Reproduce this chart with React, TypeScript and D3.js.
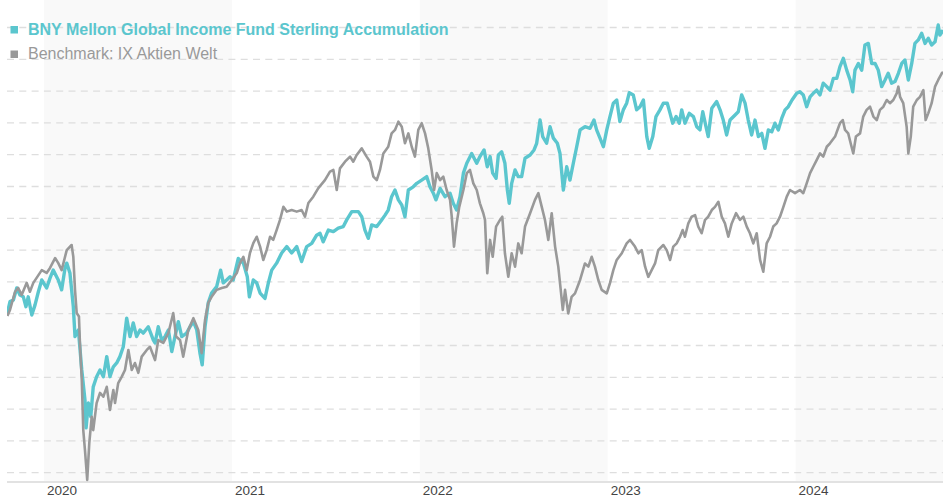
import React from "react";
import * as d3 from "d3";

// ---- Data ----
const YEARS: number[] = [2020, 2021, 2022, 2023, 2024];
const SHADED_YEARS: number[] = [2020, 2022, 2024];
const FUND_NAME = "BNY Mellon Global Income Fund Sterling Accumulation";
const BENCH_NAME = "Benchmark: IX Aktien Welt";

// [decimal year, indexed value]
const FUND: [number, number][] = [
  [2019.805, 100.2], [2019.819, 103.8], [2019.837, 104.3], [2019.855, 108.1], [2019.872, 105.9],
  [2019.89, 105.3], [2019.904, 102.2], [2019.916, 105.3], [2019.935, 99.6], [2019.952, 102.7],
  [2019.97, 106.9], [2019.988, 110.6], [2020.014, 108.1], [2020.032, 111.2], [2020.049, 113.7],
  [2020.076, 110.6], [2020.094, 107.5], [2020.112, 114.4], [2020.121, 115.9], [2020.138, 112.8],
  [2020.156, 102.2], [2020.165, 92.8], [2020.183, 94.9], [2020.201, 82.3], [2020.218, 72.9],
  [2020.224, 64.1], [2020.236, 71.9], [2020.249, 67.6], [2020.262, 77.0], [2020.28, 80.2],
  [2020.298, 82.3], [2020.316, 80.2], [2020.334, 86.5], [2020.351, 80.2], [2020.369, 83.3],
  [2020.387, 84.5], [2020.404, 86.5], [2020.422, 89.6], [2020.44, 98.6], [2020.458, 92.8],
  [2020.475, 97.1], [2020.493, 92.8], [2020.511, 94.9], [2020.528, 93.9], [2020.555, 95.9],
  [2020.582, 91.7], [2020.591, 90.8], [2020.608, 95.9], [2020.626, 91.7], [2020.644, 92.8],
  [2020.662, 94.9], [2020.68, 88.1], [2020.697, 92.8], [2020.715, 97.5], [2020.733, 92.8],
  [2020.759, 93.9], [2020.777, 95.9], [2020.795, 97.5], [2020.813, 94.9], [2020.83, 87.6],
  [2020.842, 83.9], [2020.857, 95.9], [2020.874, 103.4], [2020.892, 106.5], [2020.919, 108.5],
  [2020.94, 113.7], [2020.954, 109.7], [2020.972, 110.6], [2020.99, 111.6], [2021.007, 110.6],
  [2021.034, 117.4], [2021.061, 115.9], [2021.082, 111.6], [2021.093, 105.3], [2021.114, 110.6],
  [2021.132, 109.7], [2021.15, 106.5], [2021.176, 104.8], [2021.194, 109.7], [2021.212, 113.7],
  [2021.238, 115.9], [2021.265, 119.1], [2021.292, 121.1], [2021.318, 119.1], [2021.345, 121.1],
  [2021.371, 116.4], [2021.398, 121.1], [2021.425, 122.1], [2021.451, 124.7], [2021.469, 125.3],
  [2021.486, 122.6], [2021.513, 126.3], [2021.54, 125.8], [2021.566, 126.9], [2021.593, 127.4],
  [2021.611, 129.5], [2021.638, 132.1], [2021.673, 132.1], [2021.691, 130.5], [2021.708, 126.3],
  [2021.726, 123.7], [2021.744, 127.9], [2021.771, 127.4], [2021.797, 129.5], [2021.815, 131.0],
  [2021.832, 132.6], [2021.85, 136.8], [2021.868, 138.9], [2021.886, 135.8], [2021.904, 134.2],
  [2021.921, 130.5], [2021.939, 138.9], [2021.965, 139.9], [2021.984, 141.0], [2022.01, 142.0],
  [2022.037, 143.1], [2022.054, 139.9], [2022.072, 137.9], [2022.086, 135.8], [2022.108, 139.4],
  [2022.134, 136.8], [2022.161, 137.9], [2022.178, 134.7], [2022.196, 132.6], [2022.214, 136.8],
  [2022.232, 144.2], [2022.25, 147.3], [2022.276, 150.4], [2022.303, 147.3], [2022.32, 149.4],
  [2022.342, 151.5], [2022.359, 146.2], [2022.374, 149.4], [2022.388, 144.2], [2022.406, 142.6],
  [2022.418, 149.9], [2022.436, 150.9], [2022.453, 147.3], [2022.466, 138.9], [2022.476, 134.7],
  [2022.489, 141.0], [2022.507, 145.2], [2022.524, 143.1], [2022.542, 143.1], [2022.56, 148.9],
  [2022.587, 149.9], [2022.608, 151.5], [2022.622, 153.6], [2022.64, 160.9], [2022.654, 155.7],
  [2022.675, 153.6], [2022.693, 158.8], [2022.711, 155.2], [2022.732, 153.6], [2022.746, 150.4],
  [2022.764, 138.9], [2022.782, 146.2], [2022.799, 142.0], [2022.817, 147.3], [2022.835, 152.5],
  [2022.853, 157.8], [2022.879, 158.8], [2022.906, 158.3], [2022.927, 160.9], [2022.941, 157.8],
  [2022.959, 155.2], [2022.977, 152.5], [2022.995, 157.8], [2023.012, 162.0], [2023.03, 166.2],
  [2023.048, 167.2], [2023.065, 160.4], [2023.083, 164.1], [2023.101, 166.2], [2023.115, 169.5],
  [2023.136, 168.8], [2023.154, 164.1], [2023.172, 165.1], [2023.19, 167.2], [2023.208, 155.7],
  [2023.221, 152.0], [2023.24, 155.7], [2023.257, 162.0], [2023.278, 164.1], [2023.296, 166.2],
  [2023.317, 166.2], [2023.332, 163.0], [2023.346, 159.9], [2023.364, 162.0], [2023.381, 159.9],
  [2023.394, 164.1], [2023.411, 159.9], [2023.434, 163.0], [2023.456, 162.0], [2023.474, 158.8],
  [2023.491, 157.8], [2023.506, 163.5], [2023.523, 158.8], [2023.535, 155.7], [2023.554, 164.6],
  [2023.58, 166.7], [2023.598, 164.1], [2023.615, 160.9], [2023.633, 156.2], [2023.651, 160.9],
  [2023.678, 162.5], [2023.695, 163.5], [2023.713, 168.8], [2023.731, 166.2], [2023.748, 160.9],
  [2023.766, 156.2], [2023.784, 160.9], [2023.802, 155.7], [2023.82, 156.7], [2023.837, 152.0],
  [2023.855, 157.8], [2023.873, 157.2], [2023.89, 159.9], [2023.908, 157.8], [2023.926, 161.4],
  [2023.944, 164.1], [2023.961, 165.1], [2023.981, 167.2], [2024.006, 169.3], [2024.023, 169.8],
  [2024.041, 168.8], [2024.059, 165.1], [2024.077, 168.2], [2024.094, 169.3], [2024.112, 170.3],
  [2024.13, 168.8], [2024.147, 172.5], [2024.166, 171.4], [2024.183, 170.3], [2024.201, 174.0],
  [2024.219, 174.0], [2024.236, 177.7], [2024.254, 180.3], [2024.272, 176.6], [2024.29, 173.5],
  [2024.304, 169.8], [2024.316, 176.6], [2024.334, 178.7], [2024.352, 176.6], [2024.369, 184.5],
  [2024.387, 185.0], [2024.405, 178.7], [2024.423, 178.7], [2024.44, 176.6], [2024.458, 171.4],
  [2024.476, 173.5], [2024.493, 175.6], [2024.511, 172.5], [2024.529, 173.0], [2024.547, 175.6],
  [2024.565, 178.7], [2024.582, 179.8], [2024.6, 173.5], [2024.618, 178.7], [2024.635, 185.0],
  [2024.653, 186.1], [2024.671, 188.2], [2024.689, 185.0], [2024.706, 186.6], [2024.724, 184.5],
  [2024.742, 185.5], [2024.759, 190.8], [2024.768, 187.6], [2024.785, 189.2],
];

const BENCHMARK: [number, number][] = [
  [2019.805, 99.3], [2019.819, 101.2], [2019.846, 106.9], [2019.863, 108.1], [2019.881, 105.9],
  [2019.908, 109.7], [2019.925, 106.9], [2019.943, 109.7], [2019.988, 113.7], [2020.014, 112.8],
  [2020.032, 114.4], [2020.059, 117.5], [2020.076, 115.9], [2020.094, 113.7], [2020.112, 117.9],
  [2020.121, 120.0], [2020.147, 121.6], [2020.156, 117.9], [2020.165, 107.5], [2020.174, 100.2],
  [2020.186, 99.1], [2020.192, 89.6], [2020.201, 79.2], [2020.209, 63.4], [2020.218, 57.1],
  [2020.23, 47.7], [2020.241, 59.3], [2020.254, 67.6], [2020.262, 63.4], [2020.28, 71.9],
  [2020.298, 75.1], [2020.316, 73.9], [2020.334, 77.0], [2020.351, 69.7], [2020.369, 76.0],
  [2020.378, 71.9], [2020.395, 78.2], [2020.414, 80.2], [2020.431, 82.3], [2020.449, 88.6],
  [2020.467, 82.3], [2020.484, 84.5], [2020.502, 81.4], [2020.52, 86.5], [2020.547, 88.6],
  [2020.564, 89.6], [2020.591, 85.4], [2020.608, 91.7], [2020.635, 90.8], [2020.662, 93.9],
  [2020.688, 100.2], [2020.703, 92.8], [2020.724, 91.7], [2020.741, 86.5], [2020.768, 94.9],
  [2020.795, 98.6], [2020.821, 94.9], [2020.839, 87.6], [2020.857, 98.0], [2020.874, 103.4],
  [2020.892, 105.3], [2020.919, 107.5], [2020.946, 108.1], [2020.972, 108.5], [2020.999, 110.6],
  [2021.026, 112.8], [2021.043, 115.9], [2021.061, 117.9], [2021.079, 113.7], [2021.096, 119.1],
  [2021.114, 122.2], [2021.132, 124.2], [2021.15, 121.1], [2021.167, 116.9], [2021.185, 120.0],
  [2021.203, 124.2], [2021.22, 123.2], [2021.238, 126.3], [2021.256, 129.5], [2021.274, 133.6],
  [2021.292, 132.1], [2021.318, 132.6], [2021.345, 132.1], [2021.371, 132.6], [2021.389, 130.5],
  [2021.407, 134.8], [2021.433, 136.8], [2021.46, 139.5], [2021.495, 142.0], [2021.522, 144.7],
  [2021.54, 145.2], [2021.558, 138.9], [2021.575, 145.7], [2021.602, 147.8], [2021.629, 149.4],
  [2021.646, 147.8], [2021.664, 149.9], [2021.691, 152.0], [2021.717, 149.4], [2021.735, 147.8],
  [2021.753, 143.1], [2021.771, 142.0], [2021.788, 145.2], [2021.806, 150.4], [2021.832, 152.5],
  [2021.85, 156.7], [2021.868, 157.8], [2021.886, 160.4], [2021.904, 158.8], [2021.921, 153.6],
  [2021.939, 156.7], [2021.957, 152.5], [2021.974, 149.4], [2021.992, 157.8], [2022.01, 159.9],
  [2022.028, 156.7], [2022.045, 152.0], [2022.063, 145.2], [2022.076, 138.9], [2022.09, 144.2],
  [2022.108, 142.0], [2022.125, 143.1], [2022.143, 138.9], [2022.161, 135.8], [2022.17, 130.5],
  [2022.182, 121.1], [2022.196, 128.4], [2022.21, 133.6], [2022.232, 138.9], [2022.25, 144.2],
  [2022.267, 145.2], [2022.285, 141.0], [2022.303, 138.9], [2022.32, 134.7], [2022.338, 131.6],
  [2022.347, 129.5], [2022.359, 112.7], [2022.374, 123.2], [2022.388, 117.9], [2022.406, 127.4],
  [2022.427, 129.5], [2022.439, 130.5], [2022.453, 119.0], [2022.471, 111.6], [2022.489, 119.0],
  [2022.507, 114.8], [2022.524, 122.1], [2022.542, 119.0], [2022.56, 127.4], [2022.587, 131.6],
  [2022.613, 135.8], [2022.631, 137.9], [2022.649, 133.6], [2022.666, 129.5], [2022.684, 123.2],
  [2022.702, 131.6], [2022.72, 121.1], [2022.737, 114.8], [2022.75, 107.5], [2022.761, 101.2],
  [2022.773, 107.5], [2022.79, 100.1], [2022.808, 105.3], [2022.826, 106.4], [2022.853, 110.6],
  [2022.879, 115.8], [2022.897, 114.8], [2022.915, 117.9], [2022.932, 114.8], [2022.95, 110.6],
  [2022.968, 107.5], [2022.995, 106.4], [2023.012, 109.6], [2023.03, 113.7], [2023.048, 116.9],
  [2023.075, 119.0], [2023.101, 122.1], [2023.119, 123.2], [2023.145, 121.1], [2023.163, 119.0],
  [2023.181, 120.0], [2023.199, 114.8], [2023.216, 111.6], [2023.234, 113.7], [2023.252, 115.8],
  [2023.269, 120.0], [2023.296, 121.6], [2023.314, 120.0], [2023.332, 116.9], [2023.349, 121.1],
  [2023.367, 122.1], [2023.385, 124.2], [2023.399, 126.3], [2023.411, 124.2], [2023.429, 128.4],
  [2023.447, 130.5], [2023.465, 131.0], [2023.482, 127.4], [2023.5, 125.3], [2023.518, 129.5],
  [2023.535, 130.5], [2023.554, 132.6], [2023.571, 133.6], [2023.589, 135.2], [2023.607, 130.5],
  [2023.624, 128.4], [2023.642, 124.2], [2023.66, 128.4], [2023.683, 131.6], [2023.704, 129.5],
  [2023.722, 130.5], [2023.74, 127.4], [2023.757, 125.3], [2023.775, 122.1], [2023.793, 125.3],
  [2023.811, 116.9], [2023.828, 113.2], [2023.846, 122.1], [2023.864, 124.2], [2023.881, 127.4],
  [2023.899, 128.4], [2023.917, 130.5], [2023.935, 133.6], [2023.953, 136.8], [2023.97, 138.9],
  [2023.997, 137.9], [2024.023, 138.9], [2024.041, 137.9], [2024.059, 141.0], [2024.077, 144.2],
  [2024.094, 146.2], [2024.112, 148.3], [2024.13, 150.4], [2024.147, 149.4], [2024.166, 152.5],
  [2024.183, 153.6], [2024.21, 155.7], [2024.236, 159.9], [2024.251, 160.9], [2024.263, 157.8],
  [2024.28, 156.7], [2024.293, 153.6], [2024.307, 150.4], [2024.321, 155.7], [2024.343, 156.7],
  [2024.36, 162.0], [2024.378, 164.1], [2024.396, 165.1], [2024.414, 162.0], [2024.432, 160.9],
  [2024.449, 164.1], [2024.467, 165.1], [2024.485, 167.2], [2024.502, 166.2], [2024.52, 167.2],
  [2024.538, 169.3], [2024.547, 171.4], [2024.556, 168.2], [2024.573, 166.2], [2024.591, 158.8],
  [2024.6, 150.4], [2024.613, 155.7], [2024.626, 165.1], [2024.645, 167.2], [2024.662, 168.2],
  [2024.68, 170.3], [2024.692, 160.9], [2024.706, 163.0], [2024.724, 166.2], [2024.742, 171.4],
  [2024.759, 173.5], [2024.778, 175.6], [2024.785, 176.0],
];

// ---- Styles ----
const W = 943;
const H = 500;
const FUND_COLOR = "#5bc6ce";
const BENCH_COLOR = "#999999";
const FONT = "'Liberation Sans', Arial, Helvetica, sans-serif";

export default function App() {
  const x = d3.scaleLinear().domain([2020, 2025]).range([44, 983.5]);
  const y = d3.scaleLinear().domain([50, 190]).range([472.7, 27.5]);
  const plotLeft = 7;
  const plotRight = W;
  const axisY = 482;

  const line = d3
    .line<[number, number]>()
    .x((d) => x(d[0]))
    .y((d) => y(d[1]));

  const gridValues = y.ticks(14);

  return (
    <svg
      width={W}
      height={H}
      style={{ position: "absolute", left: 0, top: 0, display: "block", background: "#fff" }}
      fontFamily={FONT}
    >
      <defs>
        <clipPath id="plotClip">
          <rect x={plotLeft} y={0} width={plotRight - plotLeft} height={axisY} />
        </clipPath>
      </defs>
      {SHADED_YEARS.map((yr) => (
        <rect
          key={"band" + yr}
          x={x(yr)}
          y={0}
          width={Math.min(x(yr + 1), W) - x(yr)}
          height={axisY}
          fill="#f9f9f9"
        />
      ))}
      {gridValues.map((v) => (
        <line
          key={"g" + v}
          x1={plotLeft}
          x2={plotRight}
          y1={y(v)}
          y2={y(v)}
          stroke="#dedede"
          strokeWidth={1.3}
          strokeDasharray="7 5.3"
        />
      ))}
      <line x1={plotLeft} x2={plotRight} y1={axisY} y2={axisY} stroke="#e2e2e2" strokeWidth={2} />
      {YEARS.map((yr) => (
        <text key={"t" + yr} x={x(yr) + 3} y={495} fontSize={13.5} fill="#444">
          {yr}
        </text>
      ))}
      <g clipPath="url(#plotClip)">
        <path
          d={line(FUND) || ""}
          fill="none"
          stroke={FUND_COLOR}
          strokeWidth={3.4}
          strokeLinejoin="round"
        />
        <path
          d={line(BENCHMARK) || ""}
          fill="none"
          stroke={BENCH_COLOR}
          strokeWidth={2.6}
          strokeLinejoin="round"
        />
      </g>
      <rect x={10.5} y={26} width={7.5} height={7.5} fill={FUND_COLOR} />
      <text x={28} y={34.5} fontSize={16} fontWeight="bold" fill={FUND_COLOR}>
        {FUND_NAME}
      </text>
      <rect x={10.5} y={50.5} width={7.5} height={7.5} fill={BENCH_COLOR} />
      <text x={28} y={59} fontSize={16} fill={BENCH_COLOR}>
        {BENCH_NAME}
      </text>
    </svg>
  );
}
